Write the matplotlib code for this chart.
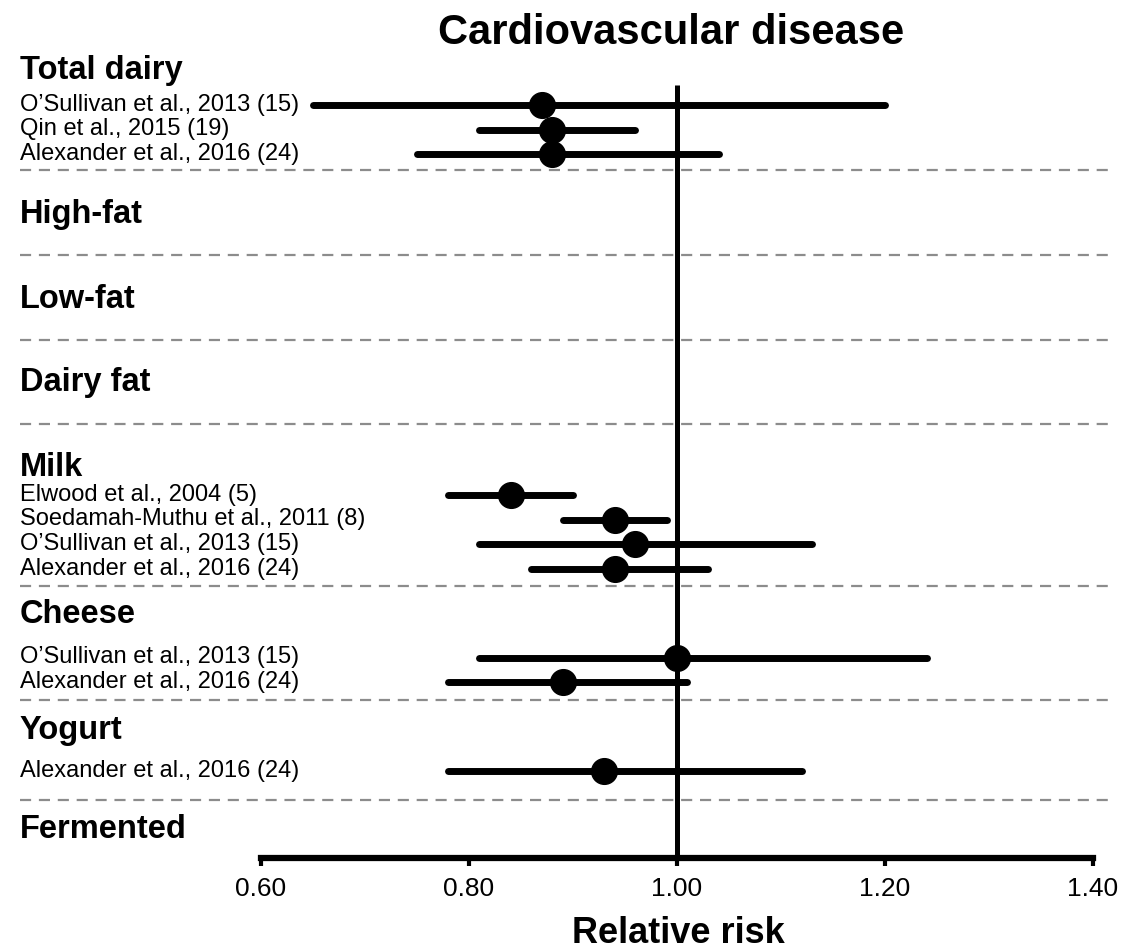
import matplotlib
matplotlib.use('Agg')
import matplotlib.pyplot as plt

plt.rcParams['font.family'] = ['Liberation Sans', 'DejaVu Sans']

# relative risk (point, lower CI, upper CI) per study
total_labels = ["O\u2019Sullivan et al., 2013 (15)", "Qin et al., 2015 (19)", "Alexander et al., 2016 (24)"]
total_rr = [0.87, 0.88, 0.88]
total_lo = [0.65, 0.81, 0.75]
total_hi = [1.20, 0.96, 1.04]

milk_labels = ["Elwood et al., 2004 (5)", "Soedamah-Muthu et al., 2011 (8)",
               "O\u2019Sullivan et al., 2013 (15)", "Alexander et al., 2016 (24)"]
milk_rr = [0.84, 0.94, 0.96, 0.94]
milk_lo = [0.78, 0.89, 0.81, 0.86]
milk_hi = [0.90, 0.99, 1.13, 1.03]

cheese_labels = ["O\u2019Sullivan et al., 2013 (15)", "Alexander et al., 2016 (24)"]
cheese_rr = [1.00, 0.89]
cheese_lo = [0.81, 0.78]
cheese_hi = [1.24, 1.01]

yogurt_labels = ["Alexander et al., 2016 (24)"]
yogurt_rr = [0.93]
yogurt_lo = [0.78]
yogurt_hi = [1.12]

groups = ["Total dairy", "High-fat", "Low-fat", "Dairy fat", "Milk", "Cheese", "Yogurt", "Fermented"]
group_data = {
    "Total dairy": (total_labels, total_rr, total_lo, total_hi),
    "Milk": (milk_labels, milk_rr, milk_lo, milk_hi),
    "Cheese": (cheese_labels, cheese_rr, cheese_lo, cheese_hi),
    "Yogurt": (yogurt_labels, yogurt_rr, yogurt_lo, yogurt_hi),
}
xticks = [0.60, 0.80, 1.00, 1.20, 1.40]

# layout (vertical units = pixels from the top)
W, H = 1134, 950
x0_px, px_per_unit = 261, 1040.0
axis_y = 858
first_header = 71
first_gap = {"Total dairy": 34, "Milk": 27, "Cheese": 43, "Yogurt": 41}
sep_gap = {"Total dairy": 16, "Milk": 17, "Cheese": 18, "Yogurt": 29}
head_gap = [44, 44, 43, 44, 29, 30, 30]
row_step = 24.5

fig = plt.figure(figsize=(W / 100, H / 100), dpi=100)
ax = fig.add_axes([0, 0, 1, 1])
ax.set_xlim(0.6 - x0_px / px_per_unit, 0.6 + (W - x0_px) / px_per_unit)
ax.set_ylim(H, 0)

def xfrac(px):
    return px / W

text_x = xfrac(20)
y = first_header
for i, g in enumerate(groups):
    ax.text(text_x, y, g, transform=ax.get_yaxis_transform(), fontsize=23.5,
            fontweight='bold', va='center', ha='left')
    if g in group_data:
        labels, rr, lo, hi = group_data[g]
        ry = y + first_gap[g]
        for lab, r, l, h in zip(labels, rr, lo, hi):
            ax.text(text_x, ry, lab, transform=ax.get_yaxis_transform(), fontsize=17,
                    va='center', ha='left')
            ax.plot([l, h], [ry, ry], color='black', lw=5, solid_capstyle='round', zorder=3)
            ax.plot(r, ry, 'o', color='black', ms=18.5, zorder=4)
            last = ry
            ry += row_step
        sep = last + sep_gap[g]
    else:
        sep = y + 41
    if i < len(groups) - 1:
        ax.axhline(sep, xmin=xfrac(20), xmax=xfrac(1115), color='#8c8c8c', lw=1.6,
                   ls=(0, (5, 3.5)), zorder=1)
        y = sep + head_gap[i]

ax.vlines(1.0, 85, axis_y, color='black', lw=3.6, zorder=2)

for s in ['top', 'left', 'right']:
    ax.spines[s].set_visible(False)
ax.spines['bottom'].set_position(('data', axis_y))
ax.spines['bottom'].set_bounds(0.6, 1.4)
ax.spines['bottom'].set_linewidth(4.5)
ax.set_xticks(xticks)
ax.set_xticklabels(['%.2f' % t for t in xticks], fontsize=19)
ax.tick_params(axis='x', direction='out', length=6, width=3, pad=8)
ax.set_yticks([])

ax.set_xlabel('Relative risk', fontsize=26, fontweight='bold')
ax.xaxis.set_label_coords(xfrac(678), 1 - 916 / H)
ax.text(xfrac(671), 33, 'Cardiovascular disease', transform=ax.get_yaxis_transform(),
        fontsize=30, fontweight='bold', ha='center', va='center')

fig.savefig('out.png', dpi=100)
